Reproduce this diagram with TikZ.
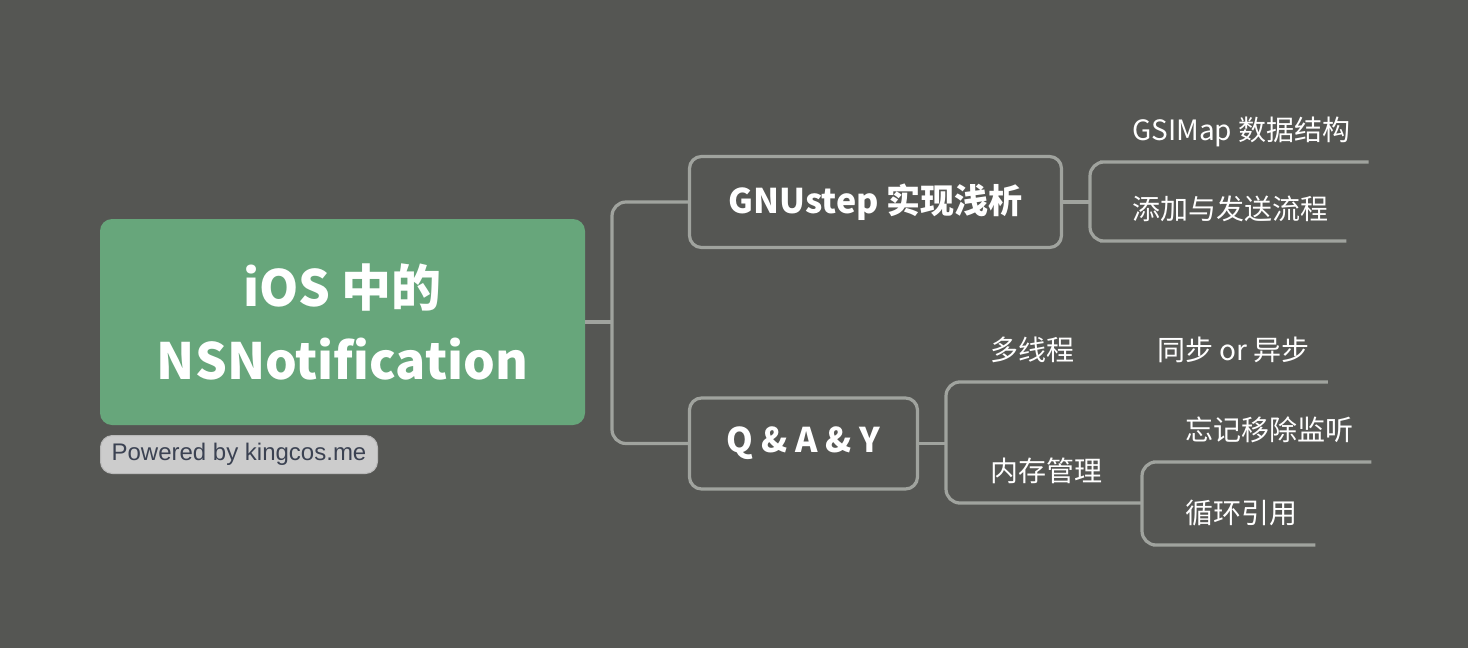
\documentclass[tikz,border=0pt]{standalone}
\usepackage{fontspec}
\setmainfont{Noto Sans CJK SC}
\newfontfamily\poweredfont{Liberation Sans}
\usetikzlibrary{positioning}
\definecolor{bgcol}{RGB}{85,86,83}
\definecolor{rootgreen}{RGB}{103,166,123}
\definecolor{linecol}{RGB}{160,163,158}
\definecolor{tagfill}{RGB}{204,204,204}
\definecolor{tagline}{RGB}{185,185,185}
\definecolor{tagtext}{RGB}{59,66,82}
\tikzset{
  branch/.style={draw=linecol, line width=3.2pt, rounded corners=14pt},
  topicbox/.style={draw=linecol, line width=3.2pt, rounded corners=12pt, text=white,
    font=\bfseries\fontsize{34}{40}\selectfont, minimum height=91pt},
  leaf/.style={anchor=south west, inner xsep=18pt, inner ysep=0pt, text depth=21pt,
    text=white, font=\fontsize{28}{32}\selectfont},
}
\begin{document}
\begin{tikzpicture}[x=1pt,y=-1pt]
    \fill[bgcol] (0,0) rectangle (1468,648);
    \useasboundingbox (0,0) rectangle (1468,648);
    % central topic
    \node (root) [fill=rootgreen, rounded corners=12pt, minimum width=485pt, minimum height=206pt,
        text=white, align=center, font=\bfseries\fontsize{50}{73}\selectfont]
        at (342.5,322) {iOS 中的\\NSNotification};
    \node (tag) [fill=tagfill, draw=tagline, line width=1pt, rounded corners=12pt,
        minimum width=277pt, minimum height=38pt, text=tagtext,
        font=\poweredfont\fontsize{24}{28}\selectfont]
        at (239,454.5) {Powered by kingcos.me};
    % main topics
    \node (gnu) [topicbox, minimum width=372pt] at (875.5,202) {GNUstep 实现浅析};
    \node (qay) [topicbox, minimum width=228pt] at (803.5,443.5) {Q \& A \& Y};
    % subtopics
    \node (gsi) [leaf] at (1114,162) {GSIMap 数据结构};
    \node (add) [leaf] at (1114,241) {添加与发送流程};
    \node (multi) [leaf] at (972,382) {多线程};
    \node (sync) [leaf] at (1139,382) {同步 or 异步};
    \node (mem) [leaf] at (972,503) {内存管理};
    \node (forget) [leaf] at (1167,462) {忘记移除监听};
    \node (cyc) [leaf] at (1167,545) {循环引用};
    % forks
    \coordinate (mfork) at (612,322);
    \coordinate (gfork) at (1090,202);
    \coordinate (qfork) at (946,443.5);
    \coordinate (memfork) at (1142,503);
    % connectors
    \draw[branch] (root.east) -- (mfork);
    \draw[branch] (gnu.west) -- (gnu.west -| mfork) -- (qay.west -| mfork) -- (qay.west);
    \draw[branch] (gnu.east) -- (gfork);
    \draw[branch] (gsi.south east) -- (gsi.south west) -- (gsi.south west -| gfork)
        -- (add.south west -| gfork) -- (add.south west) -- (add.south east);
    \draw[branch] (qay.east) -- (qfork);
    \draw[branch] (sync.south east) -- (sync.south west) -- (multi.south west)
        -- (multi.south west -| qfork) -- (mem.south west -| qfork) -- (mem.south west)
        -- (memfork);
    \draw[branch] (forget.south east) -- (forget.south west) -- (forget.south west -| memfork)
        -- (cyc.south west -| memfork) -- (cyc.south west) -- (cyc.south east);
\end{tikzpicture}
\end{document}
